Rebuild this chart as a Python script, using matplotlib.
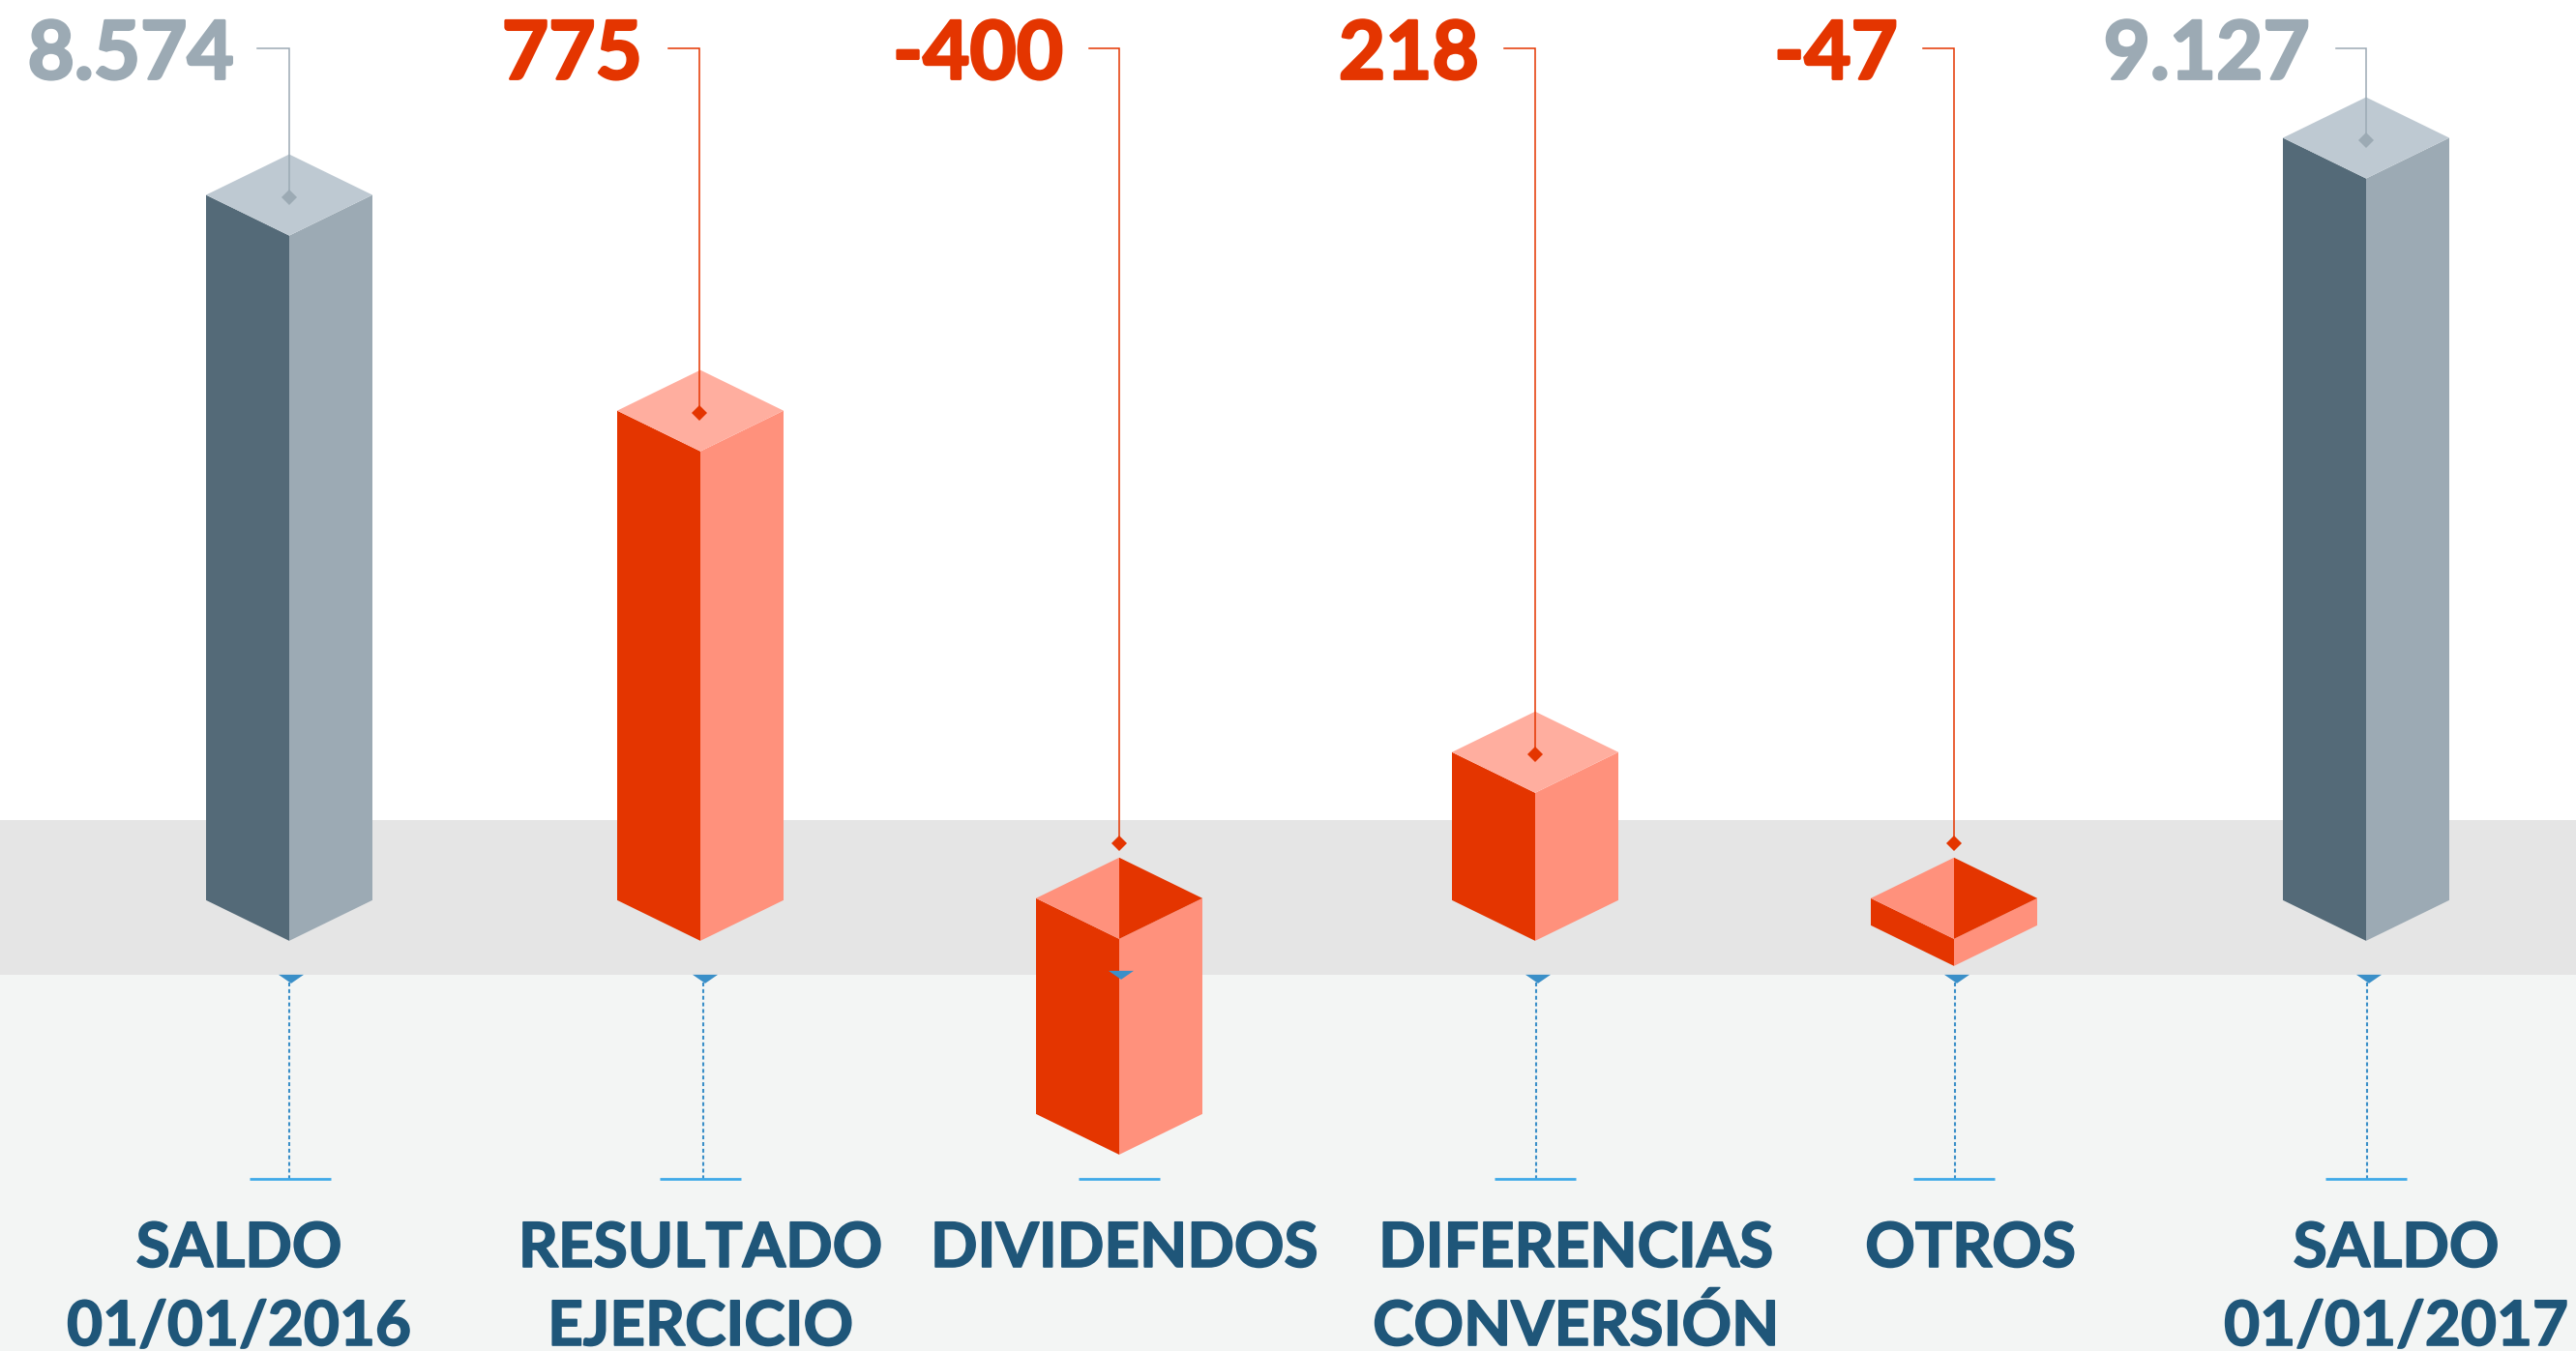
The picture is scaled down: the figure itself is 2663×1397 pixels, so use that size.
import matplotlib
matplotlib.use("Agg")
import matplotlib.pyplot as plt
import matplotlib.patheffects as pe

categories = ["SALDO\n01/01/2016", "RESULTADO\nEJERCICIO", "DIVIDENDOS",
              "DIFERENCIAS\nCONVERSIÓN", "OTROS", "SALDO\n01/01/2017"]
values = [8574, 775, -400, 218, -47, 9127]
value_labels = ["8.574", "775", "-400", "218", "-47", "9.127"]
# the picture is not to scale, so drawn heights are read off it (pixels)
drawn_heights = [729, 506, 223, 153, 28, 788]

# layout
W, H = 2663, 1397
bar_x = [299, 724, 1157, 1587, 2020, 2446]
leader_x = [299, 723, 1157, 1587, 2020, 2446]
label_x = [247, 724, 1162, 1629, 2037, 2477]
value_right = [242, 664, 1099, 1529, 1962, 2388]
hook_left = [266, 691, 1126, 1555, 1988, 2415]
tick_x = [299, 727, 1157, 1588, 2021, 2447]
rule_x = [300, 724, 1157, 1587, 2020, 2446]
base_y = 931
neg_top_y = 929
band_top = 848
band_bottom = 1008
half_w = 86
rise = 42

dark = {"grey": "#546a78", "red": "#e43500"}
light = {"grey": "#9caab4", "red": "#ff917c"}
cap = {"grey": "#bec9d2", "red": "#ffae9f"}
blue = "#3a8fc8"

plt.rcParams['font.family'] = ['Lato', 'DejaVu Sans']

fig = plt.figure(figsize=(W / 100, (H + 0.5) / 100), dpi=100)
ax = fig.add_axes([0, 0, 1, 1])
ax.set_xlim(0, W)
ax.set_ylim(H, 0)
ax.axis("off")

ax.axhspan(band_top, band_bottom, color="#e5e5e5", lw=0, zorder=0)
ax.axhspan(band_bottom, H, color="#f3f5f4", lw=0, zorder=0)

for i, v in enumerate(values):
    x = bar_x[i]
    kind = "grey" if i in (0, 5) else "red"
    ink = light["grey"] if kind == "grey" else dark["red"]
    if v < 0:
        top = neg_top_y
        bottom = top + drawn_heights[i]
    else:
        bottom = base_y
        top = bottom - drawn_heights[i]

    # side faces
    ax.fill([x - half_w, x, x, x - half_w],
            [top, top + rise, bottom + rise, bottom],
            color=dark[kind], lw=0, zorder=2)
    ax.fill([x, x + half_w, x + half_w, x],
            [top + rise, top, bottom, bottom + rise],
            color=light[kind], lw=0, zorder=2)
    # top face, a negative bar shows its inside
    if v < 0:
        ax.fill([x - half_w, x, x], [top, top - rise, top + rise],
                color=light[kind], lw=0, zorder=3)
        ax.fill([x, x + half_w, x], [top - rise, top, top + rise],
                color=dark[kind], lw=0, zorder=3)
        mark_y = top - rise - 15
    else:
        ax.fill([x - half_w, x, x + half_w, x],
                [top, top - rise, top, top + rise],
                color=cap[kind], lw=0, zorder=3)
        mark_y = top + 2

    # value label with its leader
    lx = leader_x[i]
    ax.plot([hook_left[i], lx, lx], [50, 50, mark_y], color=ink,
            lw=1.1, solid_joinstyle="miter", zorder=4)
    ax.plot([lx], [mark_y], marker="D", ms=8, mew=0, color=ink, zorder=4)
    ax.text(value_right[i], 82, value_labels[i], ha="right", va="baseline", fontsize=60,
            fontweight="bold", color=ink,
            path_effects=[pe.withStroke(linewidth=2, foreground=ink)])

    # category marker
    tx = tick_x[i]
    tri_y = 1004 if v == -400 else band_bottom
    ax.fill([tx - 11, tx + 15, tx + 2], [tri_y, tri_y, tri_y + 9], color=blue, lw=0, zorder=5)
    if v != -400:
        ax.plot([tx, tx], [1016, 1219], color=blue, lw=1.5, ls=(0, (1.9, 1.4)), zorder=1)
    ax.plot([rule_x[i] - 42, rule_x[i] + 42], [1219, 1219], color="#3fa9e8", lw=2,
            solid_capstyle="butt", zorder=1)

    for n, line in enumerate(categories[i].split("\n")):
        ax.text(label_x[i], 1310 + n * 81, line, ha="center", va="baseline", fontsize=46,
                fontweight="bold", color="#1f5679",
                path_effects=[pe.withStroke(linewidth=1.2, foreground="#1f5679")])

fig.savefig("out.png", dpi=100)
